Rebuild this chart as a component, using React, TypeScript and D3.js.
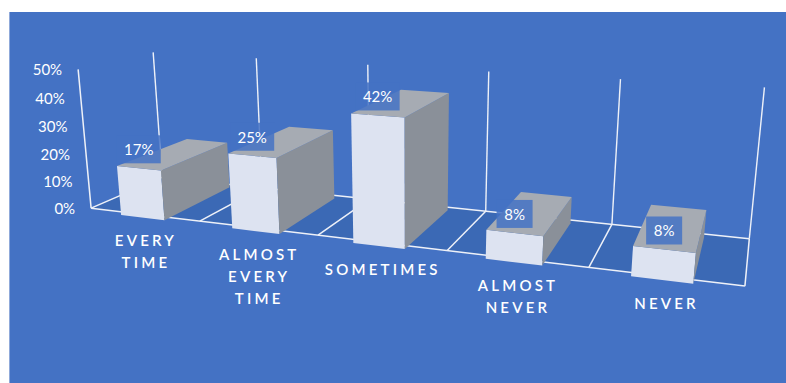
import React from "react";
import * as d3 from "d3";

// ---------- data ----------
const categoryLines: string[][] = [
  ["EVERY", "TIME"],
  ["ALMOST", "EVERY", "TIME"],
  ["SOMETIMES"],
  ["ALMOST", "NEVER"],
  ["NEVER"],
];
const categories = categoryLines.map((l) => l.join(" "));
const values = [0.167, 0.25, 0.417, 0.083, 0.083];
const tickValues = [0, 0.1, 0.2, 0.3, 0.4, 0.5];

// ---------- layout: perspective anchors [slot, value, depth, px, py] ----------
const anchors: number[][] = [
  [0, 0, 0, 91, 208], [1, 0, 0, 200, 221], [2, 0, 0, 318, 235], [3, 0, 0, 447, 250],
  [4, 0, 0, 589, 267], [5, 0, 0, 745, 287],
  [0, 0, 1, 162, 178], [3, 0, 1, 486, 211], [4, 0, 1, 612, 225], [5, 0, 1, 749, 238],
  [0, 0.5, 0, 78, 70], [0, 0.5, 1, 153, 52], [1, 0.5, 1, 257, 58], [2, 0.5, 1, 368, 65],
  [3, 0.5, 1, 488, 71], [4, 0.5, 1, 620, 79], [5, 0.5, 1, 765, 88],
];

const W = 786, H = 383;
const BG = "#4472C4", FLOOR = "#3B69B5", FRONT = "#DDE3F1", SIDE = "#8A9099", TOP = "#A6ABB3";
const LINE = "#EEF1F8";
const FONT = "Lato, 'Open Sans', sans-serif";

const yWorld = d3.scaleLinear().domain([0, 0.5]).range([-2.5, 2.5]);

function fitProjection(pts: number[][]) {
  const su = 300, ou = 400, sv = 300, ov = 200;
  const A: number[][] = [];
  const b: number[] = [];
  for (const [X0, Yv, Z0, u0, v0] of pts) {
    const X = X0 - 2.5, Y = yWorld(Yv), Z = Z0 - 0.5;
    const u = (u0 - ou) / su, v = (v0 - ov) / sv;
    A.push([X, Y, Z, 1, 0, 0, 0, 0, -u * X, -u * Y, -u * Z]); b.push(u);
    A.push([0, 0, 0, 0, X, Y, Z, 1, -v * X, -v * Y, -v * Z]); b.push(v);
  }
  const n = 11;
  const M = Array.from({ length: n }, () => new Array(n + 1).fill(0));
  for (let r = 0; r < A.length; r++)
    for (let i = 0; i < n; i++) {
      for (let j = 0; j < n; j++) M[i][j] += A[r][i] * A[r][j];
      M[i][n] += A[r][i] * b[r];
    }
  for (let c = 0; c < n; c++) {
    let p = c;
    for (let r = c + 1; r < n; r++) if (Math.abs(M[r][c]) > Math.abs(M[p][c])) p = r;
    [M[c], M[p]] = [M[p], M[c]];
    for (let r = 0; r < n; r++) {
      if (r === c) continue;
      const f = M[r][c] / M[c][c];
      for (let k = c; k <= n; k++) M[r][k] -= f * M[c][k];
    }
  }
  const P = M.map((row, i) => row[n] / row[i]);
  return (X0: number, Yv: number, Z0: number): [number, number] => {
    const X = X0 - 2.5, Y = yWorld(Yv), Z = Z0 - 0.5;
    const w = P[8] * X + P[9] * Y + P[10] * Z + 1;
    return [
      ((P[0] * X + P[1] * Y + P[2] * Z + P[3]) / w) * su + ou,
      ((P[4] * X + P[5] * Y + P[6] * Z + P[7]) / w) * sv + ov,
    ];
  };
}

const proj = fitProjection(anchors);
const band = d3.scaleBand<string>().domain(categories).range([0, 5]).paddingInner(0.6).paddingOuter(0.3).align(0.47);
const slots = d3.range(categories.length + 1);
const fmt = d3.format(".0%");
const lineGen = d3.line();
const poly = (pts: [number, number, number][]) => lineGen(pts.map((p) => proj(p[0], p[1], p[2])))! + "Z";
const seg = (a: [number, number, number], b: [number, number, number]) => {
  const [x1, y1] = proj(...a);
  const [x2, y2] = proj(...b);
  return { x1, y1, x2, y2 };
};

const BAR_BASE = -0.012;

export default function App() {
  const nSlots = categories.length;
  return (
    <svg width={W} height={H} style={{ position: "absolute", left: 0, top: 0 }}>
      <rect x={0} y={0} width={W} height={H} fill="#ffffff" />
      <rect x={9} y={12} width={W - 9} height={H - 12} fill={BG} />
      <line x1={9.5} y1={12} x2={9.5} y2={H} stroke="#8FA9DA" strokeWidth={1} />
      {/* floor */}
      <path d={poly([[0, 0, 0], [nSlots, 0, 0], [nSlots, 0, 1], [0, 0, 1]])} fill={FLOOR} />
      {slots.map((s) => (
        <line key={"fg" + s} {...seg([s, 0, 0], [s, 0, 1])} stroke={LINE} strokeWidth={1.5} />
      ))}
      <line {...seg([0, 0, 0], [nSlots, 0, 0])} stroke={LINE} strokeWidth={1.5} />
      <line {...seg([0, 0, 1], [nSlots, 0, 1])} stroke={LINE} strokeWidth={1.5} />
      {/* back wall verticals */}
      {slots.map((s) => (
        <line key={"bw" + s} {...seg([s, 0, 1], [s, 0.5, 1])} stroke={LINE} strokeWidth={1.4} />
      ))}
      {/* value axis line */}
      <line {...seg([0, 0, 0], [0, 0.5, 0])} stroke={LINE} strokeWidth={1.5} />
      {/* tick labels */}
      {tickValues.map((t) => {
        const [x, y] = proj(0, t, 0);
        return (
          <text key={"t" + t} x={x - 16} y={y} textAnchor="end" dominantBaseline="central"
            fill="#ffffff" fontFamily={FONT} fontSize={15}>
            {fmt(t)}
          </text>
        );
      })}
      {/* bars */}
      {categories.map((c, i) => {
        const x0 = band(c)!, x1 = x0 + band.bandwidth();
        const v = values[i];
        return (
          <g key={"bar" + i}>
            <path d={poly([[x0, BAR_BASE, 0], [x1, BAR_BASE, 0], [x1, v, 0], [x0, v, 0]])} fill={FRONT} />
            <path d={poly([[x1, BAR_BASE, 0], [x1, BAR_BASE, 1], [x1, v, 1], [x1, v, 0]])} fill={SIDE} />
            <path d={poly([[x0, v, 0], [x1, v, 0], [x1, v, 1], [x0, v, 1]])} fill={TOP} />
          </g>
        );
      })}
      {/* data labels */}
      {categories.map((c, i) => {
        const xc = band(c)! + band.bandwidth() / 2;
        const [x, y0] = proj(xc, values[i], 0);
        const y = y0 - 19;
        const label = fmt(values[i]);
        const bw = 20 + label.length * 8;
        return (
          <g key={"dl" + i}>
            <rect x={x - bw / 2} y={y - 14} width={bw} height={28} fill={BG} fillOpacity={0.85} />
            <text x={x} y={y} textAnchor="middle" dominantBaseline="central" fill="#ffffff"
              fontFamily={FONT} fontSize={15}>
              {label}
            </text>
          </g>
        );
      })}
      {/* category labels */}
      {categories.map((c, i) => {
        const [x, y] = proj(i + 0.5, 0, 0);
        return (
          <text key={"c" + i} textAnchor="middle" dominantBaseline="central" fill="#ffffff"
            fontFamily={FONT} fontSize={15} fontWeight={600} letterSpacing={3.2}>
            {categoryLines[i].map((ln, k) => (
              <tspan key={k} x={x + 1.6} y={y + 26 + k * 22}>{ln}</tspan>
            ))}
          </text>
        );
      })}
    </svg>
  );
}
